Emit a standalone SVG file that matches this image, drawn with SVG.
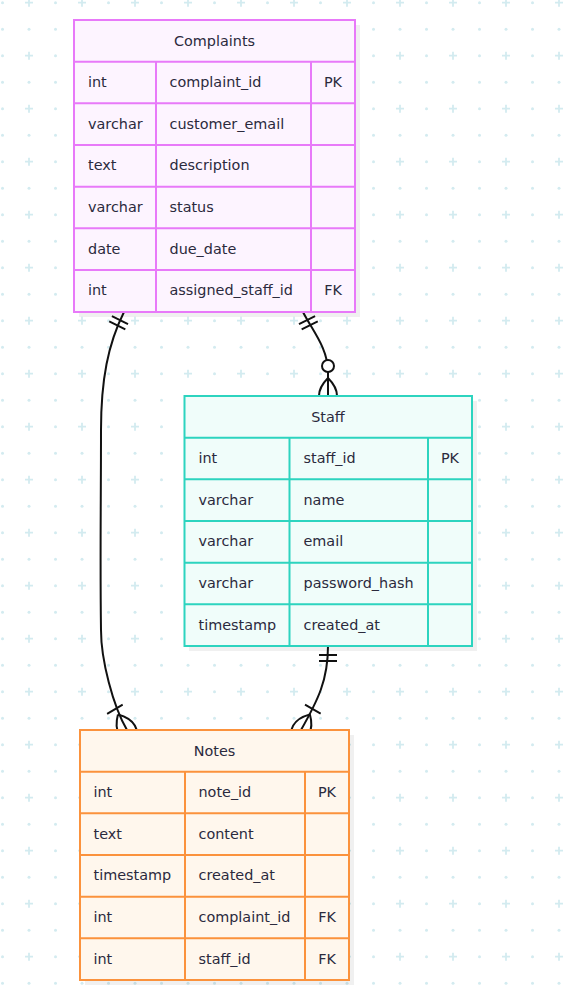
<svg xmlns="http://www.w3.org/2000/svg" width="579" height="996" viewBox="0 0 579 996">
<style>
  .txt { font-family: "DejaVu Sans", "Noto Sans", sans-serif; font-size: 14.4px; fill: #2b2a3d; dominant-baseline: central; }
  .hdr { text-anchor: middle; }
  .key { text-anchor: middle; }
  .shadow { fill: #000; opacity: 0.06; }
  .grid { stroke-width: 2; fill: none; }
  .complaints .box { fill: #fdf4ff; stroke: #e879f9; stroke-width: 2; }
  .complaints .grid { stroke: #e879f9; }
  .staff .box { fill: #f0fdfa; stroke: #2dd4bf; stroke-width: 2; }
  .staff .grid { stroke: #2dd4bf; }
  .notes .box { fill: #fff7ed; stroke: #fb923c; stroke-width: 2; }
  .notes .grid { stroke: #fb923c; }
  .edge { fill: none; stroke: #111; stroke-width: 2; }
  .mk { fill: none; stroke: #111; stroke-width: 2; }
</style>
<defs>
  <pattern id="bg" patternUnits="userSpaceOnUse" x="-10" y="-10" width="53" height="53">
    <g fill="#d3ebf0">
      <circle cx="12.5" cy="12.7" r="1.5"/>
      <circle cx="12.5" cy="39.2" r="1.5"/>
      <circle cx="39" cy="39.2" r="1.5"/>
    </g>
    <path d="M35,12.7 H43 M39,8.7 V16.7" stroke="#d3ebf0" stroke-width="1.8"/>
  </pattern>
  <marker id="oneStart" markerUnits="userSpaceOnUse" viewBox="-2 -12 24 24" refX="0" refY="0" markerWidth="24" markerHeight="24" orient="auto" overflow="visible">
    <path class="mk" d="M9,-9 V9 M15,-9 V9"/>
  </marker>
  <marker id="oneOrMoreEnd" markerUnits="userSpaceOnUse" viewBox="-30 -12 50 24" refX="0" refY="0" markerWidth="50" markerHeight="24" orient="auto" overflow="visible">
    <path class="mk" d="M-24,-9 V9 M-18,0 Q0,-18 18,0 Q0,18 -18,0"/>
  </marker>
  <marker id="zeroOrMoreEnd" markerUnits="userSpaceOnUse" viewBox="-40 -12 60 24" refX="0" refY="0" markerWidth="60" markerHeight="24" orient="auto" overflow="visible">
    <path class="mk" d="M-18,0 Q0,-18 18,0 Q0,18 -18,0"/>
    <circle cx="-30" cy="0" r="6" fill="#fff" stroke="#111" stroke-width="2"/>
  </marker>
</defs>
<rect width="579" height="996" fill="#fff"/>
<rect width="579" height="996" fill="url(#bg)"/>

<g id="connectors">
  <path id="c-complaints-notes" class="edge" d="M124,312 C108,344 101,380 101,430 C101,500 100,560 101,630 C101,660 113,706 127,730" marker-start="url(#oneStart)" marker-end="url(#oneOrMoreEnd)"/>
  <path id="c-complaints-staff" class="edge" d="M303,312 C312,330 328,348 328,372 L328,396" marker-start="url(#oneStart)" marker-end="url(#zeroOrMoreEnd)"/>
  <path id="c-staff-notes" class="edge" d="M328,646 C328,680 318,700 301,730" marker-start="url(#oneStart)" marker-end="url(#oneOrMoreEnd)"/>
</g>

<g id="complaints" class="complaints">
  <rect class="shadow" x="79" y="25" width="281" height="292"/>
  <rect class="box" x="74" y="20" width="281" height="292"/>
  <path class="grid" d="M74,61.7 H355 M74,103.3 H355 M74,145 H355 M74,186.7 H355 M74,228.3 H355 M74,270 H355 M156,61.7 V312 M311,61.7 V312"/>
  <text class="txt hdr" x="214.5" y="40.5">Complaints</text>
  <text class="txt" x="88" y="82">int</text><text class="txt" x="169.5" y="82">complaint_id</text><text class="txt key" x="333" y="82">PK</text>
  <text class="txt" x="88" y="123.7">varchar</text><text class="txt" x="169.5" y="123.7">customer_email</text>
  <text class="txt" x="88" y="165.3">text</text><text class="txt" x="169.5" y="165.3">description</text>
  <text class="txt" x="88" y="207">varchar</text><text class="txt" x="169.5" y="207">status</text>
  <text class="txt" x="88" y="248.7">date</text><text class="txt" x="169.5" y="248.7">due_date</text>
  <text class="txt" x="88" y="290.3">int</text><text class="txt" x="169.5" y="290.3">assigned_staff_id</text><text class="txt key" x="333" y="290.3">FK</text>
</g>

<g id="staff" class="staff">
  <rect class="shadow" x="189" y="401" width="288" height="250"/>
  <rect class="box" x="184.5" y="396" width="287.5" height="250"/>
  <path class="grid" d="M184.5,437.7 H472 M184.5,479.3 H472 M184.5,521 H472 M184.5,562.7 H472 M184.5,604.3 H472 M289.5,437.7 V646 M428,437.7 V646"/>
  <text class="txt hdr" x="328" y="416.5">Staff</text>
  <text class="txt" x="198.5" y="458">int</text><text class="txt" x="303.5" y="458">staff_id</text><text class="txt key" x="450" y="458">PK</text>
  <text class="txt" x="198.5" y="499.7">varchar</text><text class="txt" x="303.5" y="499.7">name</text>
  <text class="txt" x="198.5" y="541.3">varchar</text><text class="txt" x="303.5" y="541.3">email</text>
  <text class="txt" x="198.5" y="583">varchar</text><text class="txt" x="303.5" y="583">password_hash</text>
  <text class="txt" x="198.5" y="624.7">timestamp</text><text class="txt" x="303.5" y="624.7">created_at</text>
</g>

<g id="notes" class="notes">
  <rect class="shadow" x="85" y="735" width="269" height="250"/>
  <rect class="box" x="80" y="730" width="269" height="250"/>
  <path class="grid" d="M80,771.7 H349 M80,813.3 H349 M80,855 H349 M80,896.7 H349 M80,938.3 H349 M185,771.7 V980 M305,771.7 V980"/>
  <text class="txt hdr" x="214.5" y="750.5">Notes</text>
  <text class="txt" x="93.5" y="792">int</text><text class="txt" x="198.5" y="792">note_id</text><text class="txt key" x="327" y="792">PK</text>
  <text class="txt" x="93.5" y="833.7">text</text><text class="txt" x="198.5" y="833.7">content</text>
  <text class="txt" x="93.5" y="875.3">timestamp</text><text class="txt" x="198.5" y="875.3">created_at</text>
  <text class="txt" x="93.5" y="917">int</text><text class="txt" x="198.5" y="917">complaint_id</text><text class="txt key" x="327" y="917">FK</text>
  <text class="txt" x="93.5" y="958.7">int</text><text class="txt" x="198.5" y="958.7">staff_id</text><text class="txt key" x="327" y="958.7">FK</text>
</g>
</svg>
